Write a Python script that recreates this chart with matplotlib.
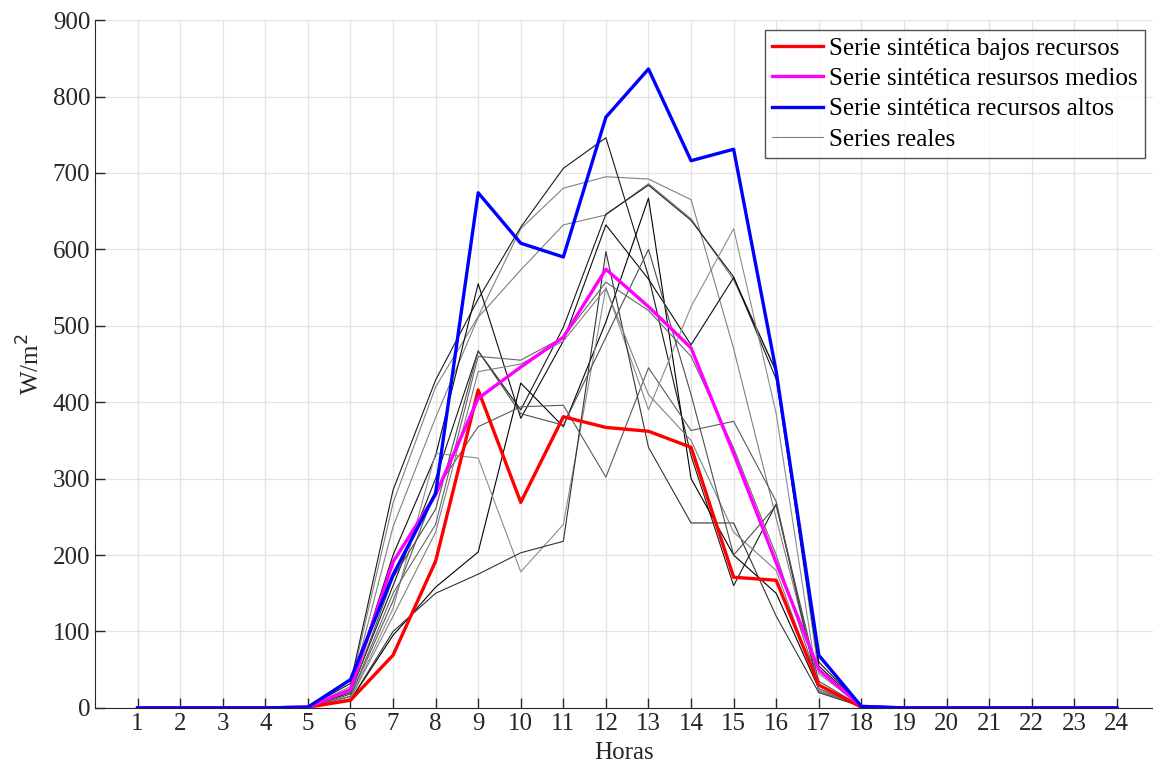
import matplotlib
matplotlib.use('agg')
import matplotlib.pyplot as plt
import numpy as np

plt.rcParams['font.family'] = ['Liberation Serif', 'DejaVu Serif']

horas = np.arange(1, 25)

# series sinteticas (W/m2)
bajos = [0, 0, 0, 0, 1, 10, 69, 192, 416, 269, 381, 367, 362, 341, 171, 167, 30, 1, 0, 0, 0, 0, 0, 0]
medios = [0, 0, 0, 0, 1, 24, 191, 279, 405, 446, 485, 574, 525, 471, 333, 190, 50, 2, 0, 0, 0, 0, 0, 0]
altos = [0, 0, 0, 0, 1, 37, 174, 281, 674, 608, 590, 773, 836, 716, 731, 440, 69, 2, 0, 0, 0, 0, 0, 0]

# series reales medidas, con su tono de gris
reales = [
    ([0, 0, 0, 0, 1, 28, 268, 420, 512, 627, 680, 695, 692, 665, 470, 248, 30, 2, 0, 0, 0, 0, 0, 0], '0.5'),
    ([0, 0, 0, 0, 1, 32, 285, 429, 535, 629, 706, 746, 565, 330, 160, 267, 22, 3, 0, 0, 0, 0, 0, 0], '0.1'),
    ([0, 0, 0, 0, 1, 22, 237, 380, 511, 573, 632, 645, 686, 640, 560, 440, 45, 2, 0, 0, 0, 0, 0, 0], '0.5'),
    ([0, 0, 0, 0, 1, 20, 160, 300, 467, 390, 498, 646, 684, 638, 564, 430, 60, 3, 0, 0, 0, 0, 0, 0], '0.1'),
    ([0, 0, 0, 0, 1, 25, 200, 330, 555, 379, 480, 632, 561, 475, 563, 440, 55, 3, 0, 0, 0, 0, 0, 0], '0.05'),
    ([0, 0, 0, 0, 1, 10, 95, 158, 204, 425, 368, 505, 667, 300, 200, 150, 25, 2, 0, 0, 0, 0, 0, 0], '0.0'),
    ([0, 0, 0, 0, 1, 15, 140, 285, 368, 394, 396, 302, 445, 363, 375, 270, 25, 2, 0, 0, 0, 0, 0, 0], '0.35'),
    ([0, 0, 0, 0, 1, 12, 130, 333, 327, 178, 240, 550, 390, 525, 627, 385, 22, 2, 0, 0, 0, 0, 0, 0], '0.55'),
    ([0, 0, 0, 0, 1, 10, 100, 150, 175, 203, 218, 597, 341, 242, 242, 120, 20, 2, 0, 0, 0, 0, 0, 0], '0.2'),
    ([0, 0, 0, 0, 1, 15, 150, 240, 460, 455, 485, 557, 520, 460, 340, 200, 30, 2, 0, 0, 0, 0, 0, 0], '0.4'),
    ([0, 0, 0, 0, 1, 12, 120, 230, 440, 450, 480, 549, 410, 350, 230, 180, 25, 2, 0, 0, 0, 0, 0, 0], '0.5'),
    ([0, 0, 0, 0, 1, 18, 170, 260, 467, 385, 370, 485, 600, 410, 200, 265, 35, 2, 0, 0, 0, 0, 0, 0], '0.3'),
]

fig = plt.figure(figsize=(11.53, 7.72), dpi=100)
ax = fig.add_axes([0.0824, 0.083, 0.9176, 0.891])

for i, (serie, gris) in enumerate(reales):
    ax.plot(horas, serie, color=gris, lw=0.8, label='Series reales' if i == 0 else None)

ax.plot(horas, bajos, color='red', lw=2.4, label='Serie sintética bajos recursos')
ax.plot(horas, medios, color='magenta', lw=2.4, label='Serie sintética resursos medios')
ax.plot(horas, altos, color='blue', lw=2.4, label='Serie sintética recursos altos')

ax.set_xlim(0, 24.85)
ax.set_ylim(0, 900)
ax.set_xticks(horas)
ax.set_yticks(np.arange(0, 901, 100))
ax.tick_params(direction='in', length=7, width=1, labelsize=18, colors='#262626')
ax.grid(True, color='#e3e3e3', lw=0.9)
ax.set_axisbelow(True)
for s in ['top', 'right']:
    ax.spines[s].set_visible(False)
for s in ['left', 'bottom']:
    ax.spines[s].set_color('#262626')

ax.set_xlabel('Horas', fontsize=18, color='#262626', labelpad=5)
ax.set_ylabel('W/m$^2$', fontsize=18, color='#262626', labelpad=6)

handles, labels = ax.get_legend_handles_labels()
orden = [labels.index(l) for l in ['Serie sintética bajos recursos', 'Serie sintética resursos medios',
                                    'Serie sintética recursos altos', 'Series reales']]
leg = ax.legend([handles[k] for k in orden], [labels[k] for k in orden], loc='upper right',
                bbox_to_anchor=(1145 / 1153, 1 - 30 / 772), bbox_transform=fig.transFigure,
                fontsize=18.1, frameon=True, fancybox=False, edgecolor='#262626',
                borderpad=0.3, labelspacing=0.3, handlelength=2.0, handletextpad=0.25, borderaxespad=0)
leg.get_frame().set_linewidth(1.0)

fig.savefig('out.png', dpi=100)
